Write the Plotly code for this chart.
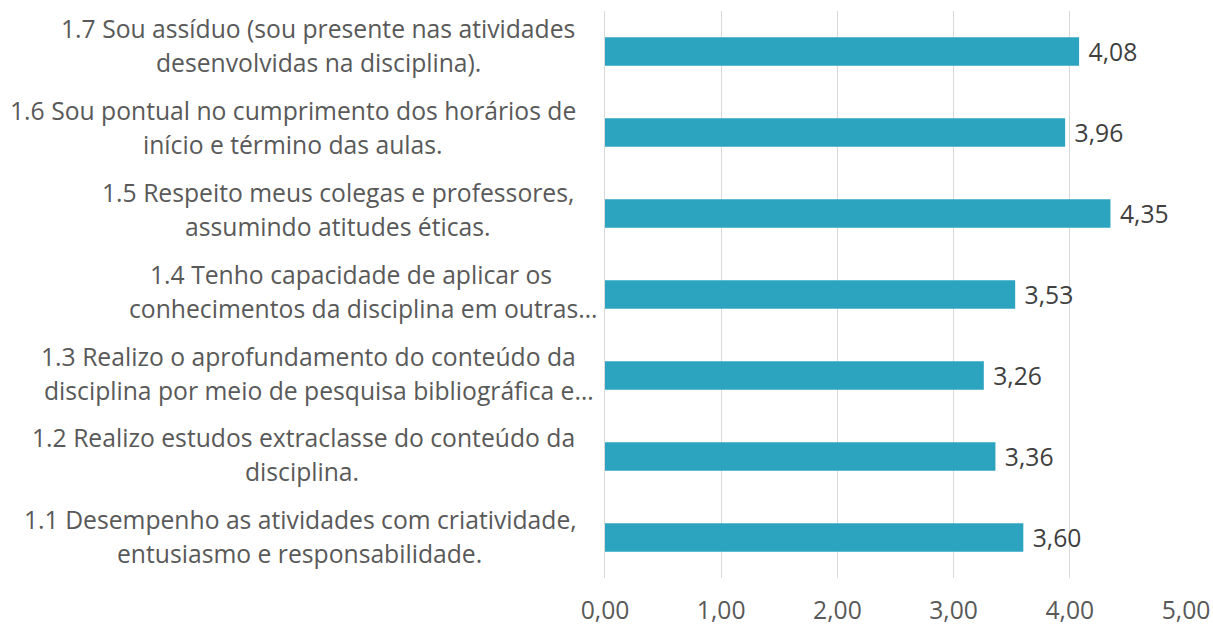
import plotly.graph_objects as go

# Data (bottom to top)
codes = ["1.1", "1.2", "1.3", "1.4", "1.5", "1.6", "1.7"]
line1 = [
    "1.1 Desempenho as atividades com criatividade,",
    "1.2 Realizo estudos extraclasse do conteúdo da",
    "1.3 Realizo o aprofundamento do conteúdo da",
    "1.4 Tenho capacidade de aplicar os",
    "1.5 Respeito meus colegas e professores,",
    "1.6 Sou pontual no cumprimento dos horários de",
    "1.7 Sou assíduo (sou presente nas atividades",
]
line2 = [
    "entusiasmo e responsabilidade.",
    "disciplina.",
    "disciplina por meio de pesquisa bibliográfica e…",
    "conhecimentos da disciplina em outras…",
    "assumindo atitudes éticas.",
    "início e término das aulas.",
    "desenvolvidas na disciplina).",
]
values = [3.60, 3.36, 3.26, 3.53, 4.35, 3.96, 4.08]
x_ticks = [0, 1, 2, 3, 4, 5]

# Layout (pixels)
W, H = 1213, 626
L, R, T = 605, 27, 11
B = H - 578
plot_w = W - L - R

# label centre positions in pixels (styling)
cx1 = [300, 303, 308, 351, 338, 293, 318]
cx2 = [299, 302, 319, 363, 338, 293, 318]
# small vertical drift of label blocks (pixels, styling)
dy = [-2, -1, -1, 0, 1, 2, 3]

FONT = "Open Sans"
FS = 24.7
TXT = "#595959"

fig = go.Figure()
fig.add_trace(go.Bar(
    x=values, y=list(range(len(codes))), orientation="h",
    marker=dict(color="#2CA3BF", line=dict(width=0)),
    width=0.35,
    text=[f"{v:.2f}".replace(".", ",") for v in values],
    texttemplate=" %{text}",
    textposition="outside",
    constraintext="none",
    cliponaxis=False,
    textfont=dict(family=FONT, size=FS, color="#404040"),
    hoverinfo="skip",
))

def px2paper(px):
    return (px - L) / plot_w

annotations = []
for i, c in enumerate(codes):
    annotations.append(dict(
        x=px2paper(cx1[i]), xref="paper", y=i, yref="y",
        text=line1[i], showarrow=False, xanchor="center", yanchor="middle",
        yshift=20 + dy[i], font=dict(family=FONT, size=FS, color=TXT)))
    annotations.append(dict(
        x=px2paper(cx2[i]), xref="paper", y=i, yref="y",
        text=line2[i], showarrow=False, xanchor="center", yanchor="middle",
        yshift=-14 + dy[i], font=dict(family=FONT, size=FS, color=TXT)))

fig.update_layout(
    width=W, height=H,
    margin=dict(l=L, r=R, t=T, b=B, pad=0, autoexpand=False),
    paper_bgcolor="white", plot_bgcolor="white",
    showlegend=False,
    separators=",.",
    annotations=annotations,
    xaxis=dict(
        range=[0, 5], tickvals=x_ticks, tickformat=".2f",
        showgrid=True, gridcolor="#D9D9D9", gridwidth=1,
        zeroline=False, showline=False, ticks="",
        ticklabelstandoff=15,
        tickfont=dict(family=FONT, size=FS, color=TXT),
        fixedrange=True,
    ),
    yaxis=dict(
        range=[-0.5, 6.5],
        showticklabels=False, showgrid=False, zeroline=False,
        showline=True, linecolor="#D9D9D9", linewidth=1,
        fixedrange=True,
    ),
)

fig.write_html(
    "out.html",
    config={"displayModeBar": False, "staticPlot": True},
    post_script="document.body.style.margin='0';document.body.style.overflow='hidden';",
)
